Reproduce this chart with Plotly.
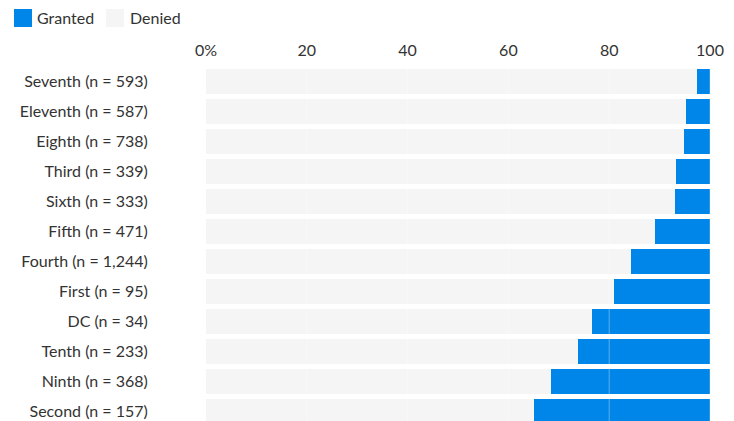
import plotly.graph_objects as go

categories = ["Seventh (n = 593)", "Eleventh (n = 587)", "Eighth (n = 738)", "Third (n = 339)",
              "Sixth (n = 333)", "Fifth (n = 471)", "Fourth (n = 1,244)", "First (n = 95)",
              "DC (n = 34)", "Tenth (n = 233)", "Ninth (n = 368)", "Second (n = 157)"]
granted = [2.6, 4.8, 5.2, 6.8, 7.0, 10.9, 15.7, 19.0, 23.5, 26.2, 31.5, 34.9]
denied = [round(100 - g, 1) for g in granted]
tick_vals = [0, 20, 40, 60, 80, 100]
tick_text = ["0%", "20", "40", "60", "80", "100"]
legend_names = ["Granted", "Denied"]

BLUE = "#0086e8"
GRAY = "#f5f5f5"
TXT = "#333333"

# figure placed at (8, 8) by the page's body margin
W, H = 726, 413
ML, MR, MT, MB = 198, 24, 58, 0
PW, PH = W - ML - MR, H - MT - MB


def px(x):
    return (x - 8 - ML) / PW


def py(y):
    return 1 + (MT - (y - 8)) / PH


fig = go.Figure()
fig.add_trace(go.Bar(y=categories, x=denied, name="Denied", orientation="h",
                     marker=dict(color=GRAY, line=dict(width=0))))
fig.add_trace(go.Bar(y=categories, x=granted, name="Granted", orientation="h",
                     marker=dict(color=BLUE, line=dict(width=0))))

for v in tick_vals[1:]:
    fig.add_shape(type="line", xref="x", yref="paper", x0=v, x1=v, y0=0, y1=1,
                  line=dict(color="rgba(255,255,255,0.35)", width=1), layer="above")

# custom legend
legend_spec = [(legend_names[0], BLUE, 14, 35), (legend_names[1], GRAY, 106, 128)]
for name, col, sx, tx in legend_spec:
    fig.add_shape(type="rect", xref="paper", yref="paper",
                  x0=px(sx), x1=px(sx + 18), y0=py(27), y1=py(9),
                  fillcolor=col, line=dict(width=0), layer="above")
    fig.add_annotation(xref="paper", yref="paper", x=px(tx), y=py(18),
                       text=name, showarrow=False, xanchor="left", yanchor="middle",
                       font=dict(family="Lato", size=16, color=TXT))

fig.update_layout(
    width=W, height=H,
    barmode="stack", bargap=0.17,
    plot_bgcolor="white", paper_bgcolor="white",
    font=dict(family="Lato", size=16, color=TXT),
    margin=dict(l=ML, r=MR, t=MT, b=MB, autoexpand=False),
    showlegend=False,
    xaxis=dict(side="top", range=[0, 100], tickvals=tick_vals, ticktext=tick_text,
               showgrid=False, zeroline=False, showline=False, automargin=False,
               ticks="outside", ticklen=3, tickcolor="rgba(0,0,0,0)",
               tickfont=dict(family="Lato", size=16, color=TXT), fixedrange=True),
    yaxis=dict(type="category", range=[11.317, -0.517], showgrid=False, automargin=False,
               ticks="outside", ticklen=54, tickcolor="rgba(0,0,0,0)",
               tickfont=dict(family="Lato", size=16, color=TXT), fixedrange=True),
)

fig.write_html("out.html")
